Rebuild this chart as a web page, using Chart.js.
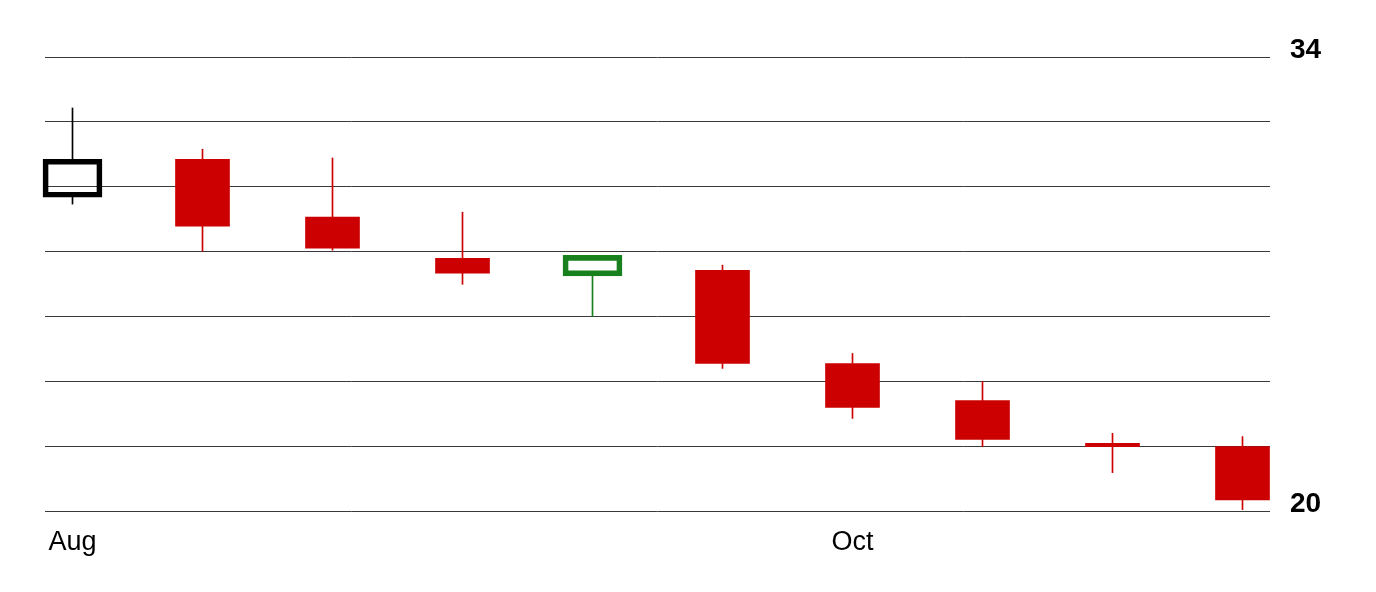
<!DOCTYPE html>
<html>
<head>
<meta charset="utf-8">
<script src="https://cdn.jsdelivr.net/npm/chart.js@4/dist/chart.umd.min.js"></script>
<style>
    html, body { margin: 0; padding: 0; background: #fff; }
    #wrap { width: 1376px; height: 592px; position: relative; }
</style>
</head>
<body>
<div id="wrap"><canvas id="candleChart"></canvas></div>
<script>
// Candle values (one per period)
const opens  = [29.68, 30.85, 29.07, 27.80, 27.26, 27.43, 24.56, 23.42, 22.10, 22.00];
const highs  = [32.43, 31.16, 30.89, 29.22, 27.89, 27.59, 24.87, 24.01, 22.41, 22.31];
const lows   = [29.47, 28.02, 28.05, 27.00, 26.01, 24.41, 22.87, 22.00, 21.20, 20.06];
const closes = [30.85, 28.79, 28.11, 27.34, 27.89, 24.56, 23.21, 22.22, 22.00, 20.36];

// x-axis labels sit under these candles
const xTickIndex = [0, 6];
const xTickLabels = ['Aug', 'Oct'];

// y-axis: gridlines every 2, only the ends labelled
const yMin = 20;
const yMax = 34;
const yStep = 2;
const yLabelled = [20, 34];

const RED = '#cc0000';
const GREEN = '#18801c';
const BLACK = '#000000';

function candleColor(i) {
    if (i === 0) return BLACK;
    return closes[i] >= closes[i - 1] ? GREEN : RED;
}

function isHollow(i) {
    return closes[i] > opens[i];
}

const hollowBodies = [];
const filledBodies = [];
const upperWicks = [];
const lowerWicks = [];

opens.forEach(function (o, i) {
    const c = closes[i];
    const top = Math.max(o, c);
    const bottom = Math.min(o, c);
    const point = { x: i, y: [bottom, top], idx: i };
    if (isHollow(i)) {
        hollowBodies.push(point);
    } else {
        filledBodies.push(point);
    }
    upperWicks.push({ x: i, y: [top, highs[i]], idx: i });
    lowerWicks.push({ x: i, y: [lows[i], bottom], idx: i });
});

const pointColor = function (ctx) {
    const raw = ctx.raw;
    return raw ? candleColor(raw.idx) : RED;
};

const halfSlot = 27.5 / 130; // half body width in candle spacing units

const ctx = document.getElementById('candleChart').getContext('2d');

new Chart(ctx, {
    type: 'bar',
    data: {
        datasets: [
            {
                label: 'Hollow',
                data: hollowBodies,
                backgroundColor: 'rgba(0,0,0,0)',
                borderColor: pointColor,
                borderWidth: 5,
                borderSkipped: false,
                barThickness: 59,
                grouped: false,
                clip: false,
                order: 0
            },
            {
                label: 'Filled',
                data: filledBodies,
                backgroundColor: pointColor,
                borderWidth: 0,
                barThickness: 54,
                grouped: false,
                clip: false,
                order: 1
            },
            {
                label: 'Upper wick',
                data: upperWicks,
                backgroundColor: pointColor,
                borderWidth: 0,
                barThickness: 1,
                grouped: false,
                clip: false,
                order: 2
            },
            {
                label: 'Lower wick',
                data: lowerWicks,
                backgroundColor: pointColor,
                borderWidth: 0,
                barThickness: 1,
                grouped: false,
                clip: false,
                order: 3
            }
        ]
    },
    options: {
        responsive: true,
        maintainAspectRatio: false,
        animation: false,
        layout: {
            padding: { top: 57, left: 45, right: 0, bottom: 18 }
        },
        plugins: {
            legend: { display: false },
            tooltip: { enabled: false }
        },
        scales: {
            x: {
                type: 'linear',
                offset: false,
                min: -halfSlot,
                max: 9 + halfSlot,
                border: { display: false },
                grid: { display: false, drawTicks: false },
                afterBuildTicks: function (scale) {
                    scale.ticks = xTickIndex.map(function (v) { return { value: v }; });
                },
                ticks: {
                    padding: 15,
                    color: '#000',
                    autoSkip: false,
                    maxRotation: 0,
                    font: { family: 'Liberation Sans', size: 27 },
                    callback: function (value) {
                        const k = xTickIndex.indexOf(value);
                        return k >= 0 ? xTickLabels[k] : '';
                    }
                }
            },
            y: {
                position: 'right',
                min: yMin,
                max: yMax,
                beginAtZero: false,
                border: { display: false },
                grid: {
                    color: '#3a3a3a',
                    lineWidth: 1,
                    drawTicks: false
                },
                afterFit: function (scale) {
                    scale.width = 106;
                },
                ticks: {
                    stepSize: yStep,
                    padding: 20,
                    labelOffset: -7,
                    color: '#000',
                    font: { family: 'Liberation Sans', size: 28, weight: 'bold' },
                    callback: function (value) {
                        return yLabelled.indexOf(value) >= 0 ? value : '';
                    }
                }
            }
        }
    }
});
</script>
</body>
</html>
